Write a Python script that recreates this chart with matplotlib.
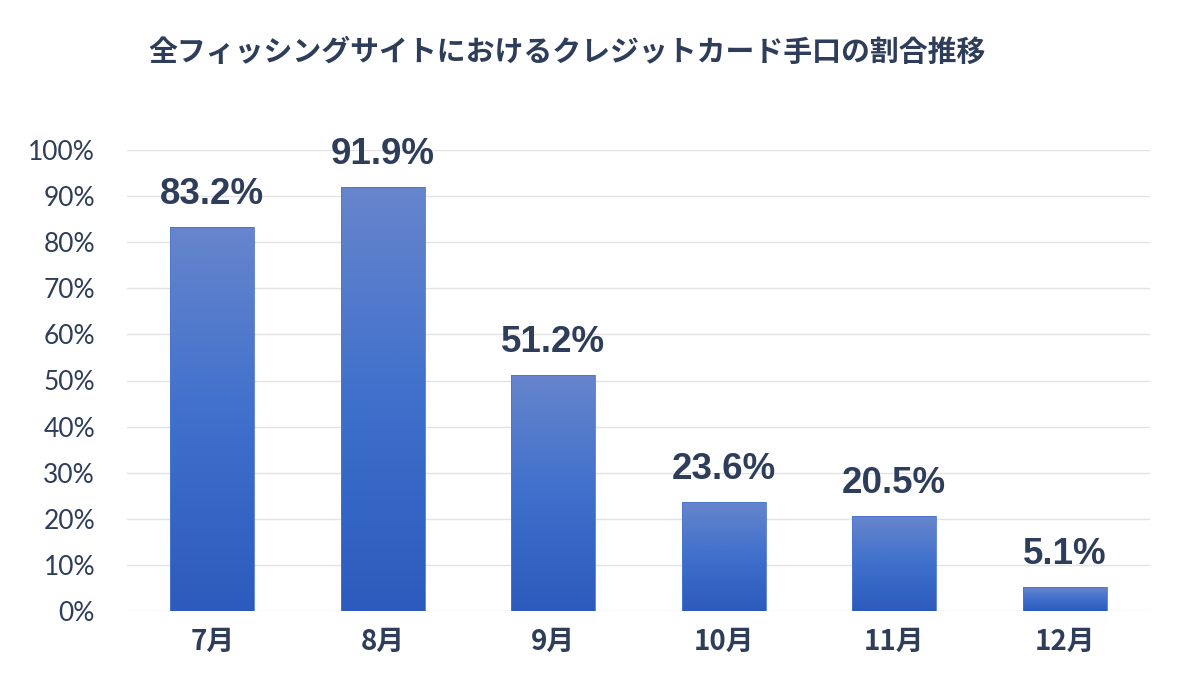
import numpy as np
import matplotlib
matplotlib.use('Agg')
import matplotlib.pyplot as plt
from matplotlib.colors import LinearSegmentedColormap

# Data
months = ['7月', '8月', '9月', '10月', '11月', '12月']
share = [83.2, 91.9, 51.2, 23.6, 20.5, 5.1]
title = '全フィッシングサイトにおけるクレジットカード手口の割合推移'

text_color = '#2e3d5a'
grid_color = '#e3e3e6'
grad = LinearSegmentedColormap.from_list('bar', ['#2c5bbd', '#3f70cc', '#6785cc'])

plt.rcParams['font.family'] = ['Noto Sans CJK JP', 'DejaVu Sans']

fig = plt.figure(figsize=(12, 6.91), dpi=100)
ax = fig.add_axes([127 / 1200, 1 - 611 / 691, 1023 / 1200, 461 / 691])

x = np.arange(len(months))
bars = ax.bar(x, share, width=0.49, color='none', edgecolor='#4a74d0', linewidth=0.6, zorder=3)

# gradient fill inside each bar
g = np.linspace(0, 1, 256).reshape(-1, 1)
for b in bars:
    x0, y0 = b.get_x(), b.get_y()
    w, h = b.get_width(), b.get_height()
    im = ax.imshow(g, cmap=grad, aspect='auto', origin='lower',
                   extent=[x0, x0 + w, y0, y0 + h], zorder=2)
    im.set_clip_path(b)

for xi, v in zip(x, share):
    ax.annotate(f'{v}%', (xi, v), xytext=(0, 11), textcoords='offset points',
                ha='center', va='bottom', fontsize=26.5, fontweight='bold',
                color=text_color, family=['Liberation Sans', 'DejaVu Sans'])

ax.set_xlim(-0.5, len(months) - 0.5)
ax.set_ylim(0, 100)
ax.set_yticks(np.arange(0, 101, 10))
ax.set_yticklabels([f'{t}%' for t in range(0, 101, 10)], fontsize=19,
                   color=text_color, family=['Lato', 'DejaVu Sans'])
ax.set_xticks(x)
ax.set_xticklabels(months, fontsize=20, fontweight='bold', color=text_color)
ax.tick_params(axis='y', length=0, pad=23)
ax.tick_params(axis='x', length=0, pad=12)
ax.grid(axis='y', color=grid_color, linewidth=1, zorder=0)
ax.set_axisbelow(True)
for s in ax.spines.values():
    s.set_visible(False)

fig.text(148 / 1200, 1 - 52 / 691, title, fontsize=20.8, fontweight='bold',
         color=text_color, ha='left', va='center')

fig.savefig('out.png', dpi=100, facecolor='white')
